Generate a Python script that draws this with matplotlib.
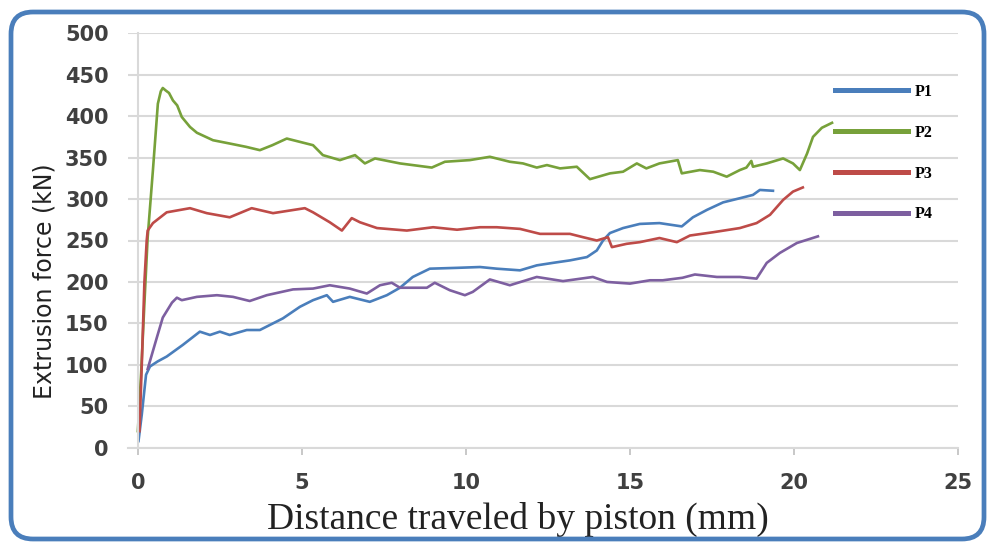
import numpy as np
import matplotlib.pyplot as plt
from matplotlib.patches import FancyBboxPatch

# distance traveled by piston (mm) and extrusion force (kN) for each punch
p1_x = [0.02, 0.12, 0.25, 0.37, 0.6, 0.88, 1.37, 1.89, 2.2, 2.5, 2.8, 3.32, 3.72, 4.42, 4.94,
        5.34, 5.76, 5.95, 6.46, 7.07, 7.59, 7.99, 8.38, 8.9, 9.73, 10.43, 10.94, 11.65, 12.16,
        12.65, 13.17, 13.69, 13.99, 14.18, 14.39, 14.79, 15.3, 15.9, 16.58, 16.92, 17.35,
        17.84, 18.35, 18.75, 18.96, 19.36]
p1_y = [8, 40, 88, 98, 104, 110, 124, 140, 136, 140, 136, 142, 142, 156, 170,
        178, 184, 176, 182, 176, 184, 193, 206, 216, 217, 218, 216, 214, 220,
        223, 226, 230, 238, 250, 259, 265, 270, 271, 267, 278, 287,
        296, 301, 305, 311, 310]

p2_x = [0.0, 0.1, 0.2, 0.3, 0.46, 0.61, 0.7, 0.76, 0.85, 0.95, 1.07, 1.2, 1.34, 1.59, 1.8,
        2.29, 2.8, 3.3, 3.72, 4.1, 4.54, 4.94, 5.34, 5.64, 6.16, 6.62, 6.92, 7.23, 7.99,
        8.96, 9.36, 10.12, 10.73, 11.34, 11.74, 12.16, 12.47, 12.87, 13.38, 13.78, 14.39,
        14.79, 15.21, 15.5, 15.9, 16.46, 16.58, 17.13, 17.54, 17.95, 18.35, 18.55, 18.7,
        18.75, 19.17, 19.67, 19.97, 20.18, 20.4, 20.58, 20.85, 21.16]
p2_y = [20, 90, 174, 254, 335, 415, 430, 434, 431, 428, 419, 413, 399, 387, 380,
        371, 367, 363, 359, 365, 373, 369, 365, 353, 347, 353, 343, 349, 343,
        338, 345, 347, 351, 345, 343, 338, 341, 337, 339, 324, 331,
        333, 343, 337, 343, 347, 331, 335, 333, 327, 335, 338, 346,
        339, 343, 349, 343, 335, 355, 375, 386, 392]

p3_x = [0.05, 0.12, 0.2, 0.27, 0.3, 0.46, 0.88, 1.59, 2.1, 2.8, 3.47, 4.12, 5.09, 5.34,
        5.85, 6.22, 6.52, 6.77, 7.29, 8.2, 9.0, 9.73, 10.43, 10.94, 11.65, 12.26, 13.17,
        13.57, 13.99, 14.33, 14.45, 14.9, 15.3, 15.9, 16.43, 16.83, 17.54, 18.35, 18.86,
        19.27, 19.67, 19.97, 20.27]
p3_y = [20, 100, 200, 250, 262, 271, 284, 289, 283, 278, 289, 283, 289, 284,
        272, 262, 277, 272, 265, 262, 266, 263, 266, 266, 264, 258, 258,
        254, 250, 254, 242, 246, 248, 253, 248, 256, 260, 265, 271,
        281, 299, 309, 314]

p4_x = [0.3, 0.58, 0.76, 1.04, 1.19, 1.34, 1.8, 2.41, 2.9, 3.41, 3.93, 4.73, 5.34, 5.85,
        6.46, 6.98, 7.38, 7.74, 7.99, 8.81, 9.05, 9.51, 9.97, 10.21, 10.73, 11.34, 12.16,
        12.96, 13.87, 14.3, 15.0, 15.61, 16.0, 16.6, 16.98, 17.65, 18.35, 18.86, 19.17,
        19.57, 20.09, 20.73]
p4_y = [95, 133, 157, 175, 181, 178, 182, 184, 182, 177, 184, 191, 192, 196,
        192, 186, 196, 199, 193, 193, 199, 190, 184, 188, 203, 196, 206,
        201, 206, 200, 198, 202, 202, 205, 209, 206, 206, 204, 223,
        235, 247, 255]

series = [("P1", p1_x, p1_y, "#4a7ebb"),
          ("P2", p2_x, p2_y, "#77a13a"),
          ("P3", p3_x, p3_y, "#be4b48"),
          ("P4", p4_x, p4_y, "#7d5fa0")]

fig = plt.figure(figsize=(9.89, 5.42), dpi=100)
ax = fig.add_axes([128 / 989, 1 - 447.7 / 542, 830 / 989, 414.4 / 542])

for name, xs, ys, col in series:
    ax.plot(xs, ys, color=col, lw=1.9, label=name, solid_joinstyle="round")

ax.set_xlim(-0.3, 25)
ax.set_ylim(0, 500)
ax.set_xticks(np.arange(0, 26, 5))
ax.set_yticks(np.arange(0, 501, 50))
ax.grid(axis="y", color="#d9d9d9", lw=1.5)
ax.set_axisbelow(True)

for s in ["top", "right"]:
    ax.spines[s].set_visible(False)
ax.spines["left"].set_position(("data", 0))
ax.spines["left"].set_color("#d9d9d9")
ax.spines["left"].set_linewidth(1.5)
ax.spines["bottom"].set_color("#d9d9d9")
ax.spines["bottom"].set_linewidth(1.5)

ax.tick_params(axis="x", length=5, width=1.2, color="#bfbfbf", pad=13,
               labelsize=15, labelcolor="#404040")
ax.tick_params(axis="y", length=0, pad=21, labelsize=15, labelcolor="#404040")
for lab in ax.get_xticklabels() + ax.get_yticklabels():
    lab.set_fontweight("bold")
    lab.set_family("DejaVu Sans")

ax.set_ylabel("Extrusion force (kN)", fontsize=17, family="DejaVu Sans", color="#222222")
ax.yaxis.set_label_coords(-0.1, 0.402)
ax.yaxis.label.set_verticalalignment("center")
ax.set_xlabel("Distance traveled by piston (mm)", fontsize=27, family="Liberation Serif",
              color="#222222")
ax.xaxis.set_label_coords(0.47, -0.172)
ax.xaxis.label.set_verticalalignment("center")

leg = ax.legend(loc="upper left", bbox_to_anchor=(835 / 989, 1 - 84 / 542),
                bbox_transform=fig.transFigure, frameon=False, handlelength=4.6,
                handletextpad=0.4, labelspacing=1.55, borderpad=0, borderaxespad=0,
                prop={"family": "Liberation Serif", "weight": "bold", "size": 11.5})
for h in leg.get_lines():
    h.set_linewidth(3.6)

frame = FancyBboxPatch((11, 3), 973, 527, boxstyle="round,pad=0,rounding_size=22",
                       transform=None, fill=False, ec="#4a7ebb", lw=3.4)
fig.patches.append(frame)

fig.savefig("out.png", dpi=100)
